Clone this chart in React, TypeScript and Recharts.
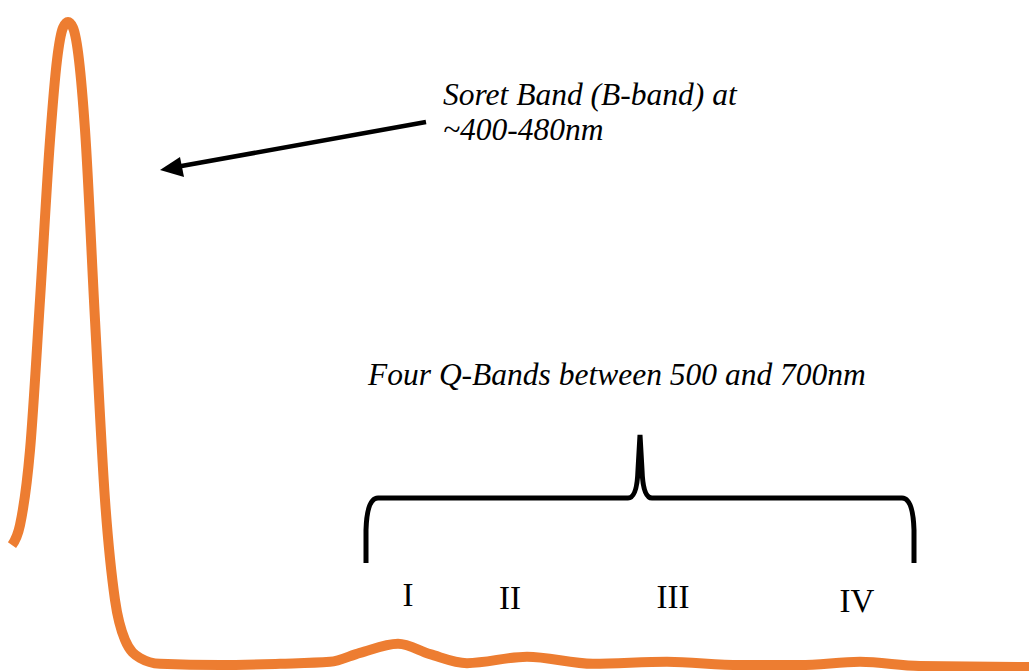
import { Line, LineChart, XAxis, YAxis } from "recharts";

// wavelength (nm) and relative absorbance
const wavelengths = [
  399.6, 402, 405, 408, 411, 413.1, 414.9, 416.4, 417.9, 419.7, 421.5, 424.5, 427.5, 430.5, 433.5, 438, 444, 462,
  480, 495, 504, 515.4, 525, 536.1, 554.1, 573.9, 596.1, 618, 636, 654, 672, 704.7,
];
const absorbance = [
  0.189, 0.22, 0.336, 0.569, 0.817, 0.941, 0.991, 1.0, 0.991, 0.941, 0.833, 0.538, 0.259, 0.104, 0.042, 0.014, 0.005,
  0.003, 0.005, 0.008, 0.022, 0.036, 0.02, 0.006, 0.016, 0.005, 0.008, 0.003, 0.003, 0.008, 0.0015, 0.0,
];
const qBandLabels = ["I", "II", "III", "IV"];
const qBandX = [408, 510, 673, 857];
const qBandY = [606, 609, 608, 612];

const data = wavelengths.map((nm, i) => ({ nm, a: absorbance[i] }));

const serif = "'Liberation Serif', 'Times New Roman', serif";

export default function App() {
  return (
    <div style={{ position: "absolute", left: 0, top: 0, width: 1029, height: 671, background: "#fff" }}>
      <LineChart width={1029} height={671} data={data} margin={{ top: 0, right: 0, bottom: 0, left: 0 }}>
        <XAxis dataKey="nm" type="number" domain={[396, 704.7]} hide />
        <YAxis type="number" domain={[-0.0062, 1.0341]} hide />
        <Line
          type="monotone"
          dataKey="a"
          stroke="#ed7d31"
          strokeWidth={10}
          strokeLinecap="butt"
          dot={false}
          activeDot={false}
          isAnimationActive={false}
        />
      </LineChart>
      <svg width={1029} height={671} style={{ position: "absolute", left: 0, top: 0, pointerEvents: "none" }}>
        <line x1={426} y1={122} x2={176} y2={167} stroke="#000" strokeWidth={4.5} />
        <polygon points="160,170 180,157 184,177" fill="#000" />
        <text x={443} y={105} fontFamily={serif} fontStyle="italic" fontSize={31.5} fill="#000">
          Soret Band (B-band) at
        </text>
        <text x={443} y={140} fontFamily={serif} fontStyle="italic" fontSize={31.5} fill="#000">
          ~400-480nm
        </text>
        <text x={368} y={385} fontFamily={serif} fontStyle="italic" fontSize={31.5} fill="#000">
          Four Q-Bands between 500 and 700nm
        </text>
        <path
          d="M366,563 L366,530 Q367,498 378,498 L628,498 Q637,498 638,470 L640,435 L642,470 Q643,498 652,498 L902,498 Q913,498 914,530 L914,563"
          fill="none"
          stroke="#000"
          strokeWidth={5}
        />
        {qBandLabels.map((t, i) => (
          <text
            key={t}
            x={qBandX[i]}
            y={qBandY[i]}
            textAnchor="middle"
            fontFamily={serif}
            fontSize={33}
            fill="#000"
          >
            {t}
          </text>
        ))}
      </svg>
    </div>
  );
}
